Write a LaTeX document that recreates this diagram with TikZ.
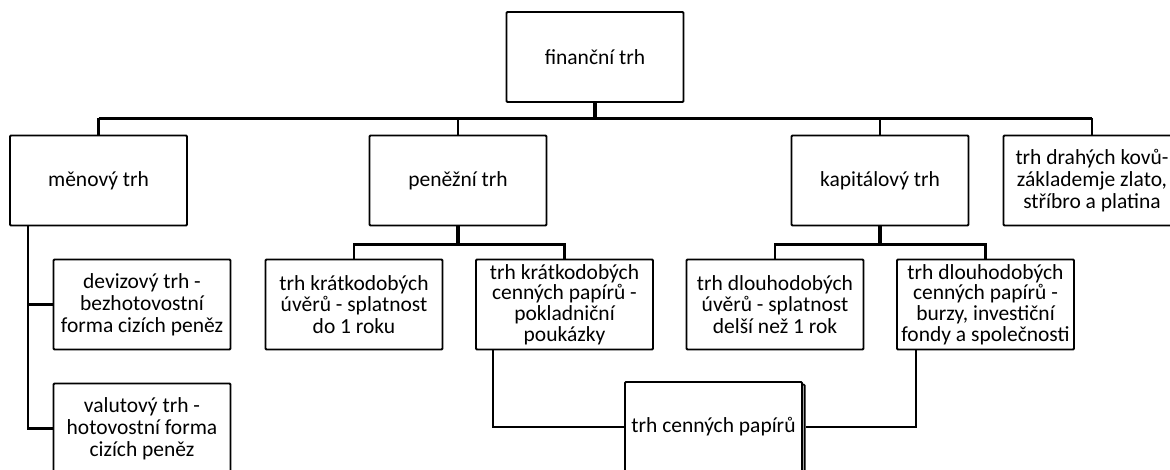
\documentclass[tikz,border=0pt]{standalone}
\usepackage{fontspec}
\setmainfont{Carlito}
\usetikzlibrary{shadows}

\begin{document}
\begin{tikzpicture}[x=1pt,y=-1pt]
\tikzset{box/.style={draw=black,line width=1.8pt,rounded corners=1pt,fill=white,
    minimum width=177pt,minimum height=90pt,inner sep=1pt,align=center,
    font=\fontsize{21.5}{21.8}\selectfont},
  conn/.style={line width=2.6pt},
  bus/.style={line width=3.4pt},
  stem/.style={line width=4.4pt}}
\useasboundingbox (0,0) rectangle (1170,470);

\node[box](root)at(595,57){finanční trh};
\node[box](men)at(98.5,180.5){měnový trh};
\node[box](pen)at(458,180.5){peněžní trh};
\node[box](kap)at(880,180.5){kapitálový trh};
\node[box](dra)at(1092,180.5){trh drahých kovů-\\základemje zlato,\\stříbro a platina};

\node[box](dev)at(142,304.5){devizový trh -\\bezhotovostní\\forma cizích peněz};
\node[box](val)at(142,428.5){valutový trh -\\hotovostní forma\\cizích peněz};
\node[box](kru)at(354,304.5){trh krátkodobých\\úvěrů - splatnost\\do 1 roku};
\node[box,label={[align=center,font=\fontsize{21.5}{20.8}\selectfont]center:trh krátkodobých\\cenných papírů -\\pokladniční\\poukázky}](kcp)at(564.5,304.5){};
\node[box](dlu)at(775,304.5){trh dlouhodobých\\úvěrů - splatnost\\delší než 1 rok};
\node[box,label={[align=center,font=\fontsize{21.5}{20.8}\selectfont]center:trh dlouhodobých\\cenných papírů -\\burzy, investiční\\fondy a společnosti}](dcp)at(985.5,304.5){};
\node[box,copy shadow={shadow xshift=2.6pt,shadow yshift=-2.4pt}](tcp)at(713.5,427){trh cenných papírů};

% main bus
\coordinate(bus)at(0,118.5);
\draw[stem](root.south)--(root.south|-bus);
\draw[bus](men.north|-bus)--(dra.north|-bus);
\foreach \n in {men,pen,kap,dra}\draw[conn](\n.north)--(\n.north|-bus);

% money and capital market
\coordinate(sub)at(0,244.5);
\draw[stem](pen.south)--(pen.south|-sub);
\draw[stem](kap.south)--(kap.south|-sub);
\draw[conn](kru.north)|-(pen.south|-sub)-|(kcp.north);
\draw[conn](dlu.north)|-(kap.south|-sub)-|(dcp.north);

% currency market
\coordinate(mleg)at([xshift=19pt]men.south west);
\draw[conn](mleg)|-(dev.west);
\draw[conn](mleg)|-(val.west);

% securities
\draw[conn]([xshift=18pt]kcp.south west)|-(tcp.west);
\draw[conn]([xshift=20pt]dcp.south west)|-([xshift=2.6pt]tcp.east);
\end{tikzpicture}
\end{document}
